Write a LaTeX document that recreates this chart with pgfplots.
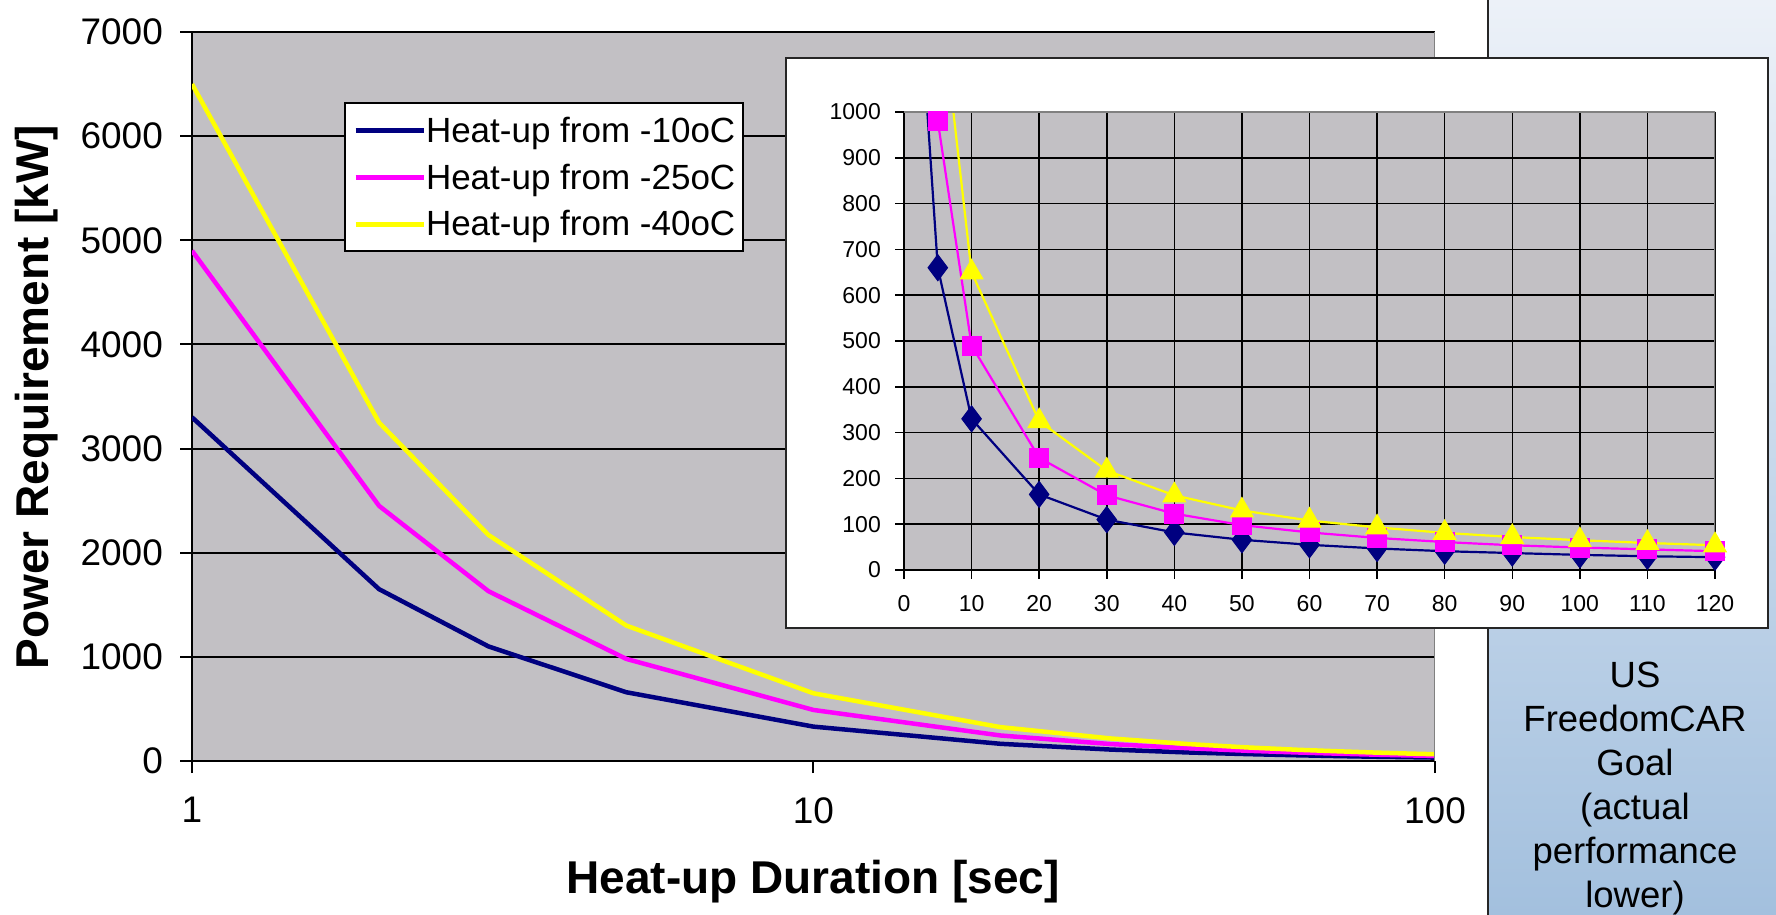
\documentclass[border=0pt]{standalone}
\usepackage{pgfplots}
\pgfplotsset{compat=1.18}
\usepackage{pgfplotstable}
\usepackage{fontspec}
\setmainfont{Liberation Sans}

\definecolor{plotgrey}{RGB}{194,192,196}
\definecolor{xlnavy}{RGB}{0,0,128}
\definecolor{xlmag}{RGB}{255,0,255}
\definecolor{xlyel}{RGB}{255,255,0}
\definecolor{panellight}{RGB}{236,241,248}
\definecolor{panelmid}{RGB}{192,211,233}
\definecolor{panelblue}{RGB}{163,192,222}

% power [kW] against heat-up time [s]
\pgfplotstableread{
t p
1 3300
2 1650
3 1100
5 660
10 330
20 165
30 110
40 82
50 66
60 55
70 47
80 41
90 37
100 33
110 30
120 28
}\tabA
\pgfplotstableread{
t p
1 4900
2 2450
3 1630
5 980
10 490
20 245
30 163
40 123
50 98
60 82
70 70
80 61
90 54
100 49
110 45
120 41
}\tabB
\pgfplotstableread{
t p
1 6500
2 3250
3 2170
5 1300
10 650
20 325
30 217
40 163
50 130
60 108
70 93
80 81
90 72
100 65
110 59
120 54
}\tabC

\begin{document}
\begin{tikzpicture}
\useasboundingbox (0,0) rectangle (1776bp,915bp);
\fill[white] (0,0) rectangle (1776bp,915bp);

% main chart, log time axis
\begin{axis}[
    at={(192bp,154bp)}, anchor=south west,
    scale only axis, width=1243bp, height=729bp,
    xmode=log, xmin=1, xmax=100, ymin=0, ymax=7000,
    xtick={1,10,100}, xticklabels={1,10,100}, xminorticks=false,
    ytick={0,1000,...,7000},
    scaled y ticks=false,
    /pgf/number format/1000 sep={},
    /pgf/number format/assume math mode=true,
    axis background/.style={fill=plotgrey},
    axis x line*=bottom, axis y line*=left,
    axis line style={black, line width=2bp, -},
    tick align=outside, major tick length=12bp,
    tick style={black, line width=2bp},
    ymajorgrids, grid style={black, line width=2bp},
    tick label style={font=\fontsize{37bp}{40bp}\selectfont},
    yticklabel style={inner sep=0pt, xshift=-17bp},
    xticklabel style={inner sep=0pt, yshift=-24bp},
    legend style={at={(0.1223,0.904)}, anchor=north west,
        draw=black, line width=2bp, fill=white,
        inner xsep=8bp, inner ysep=14bp, row sep=20bp,
        font=\fontsize{35bp}{40bp}\selectfont,
        nodes={inner sep=0pt},
        /tikz/every even column/.append style={column sep=10bp}},
    legend cell align=left,
    legend image code/.code={\draw[#1, line width=5bp] (0bp,0bp) -- (68bp,0bp);},
]
\addplot[xlnavy, line width=4.5bp, line join=round] table[x=t, y=p] {\tabA};
\addlegendentry{Heat-up from -10oC}
\addplot[xlmag, line width=4.5bp, line join=round] table[x=t, y=p] {\tabB};
\addlegendentry{Heat-up from -25oC}
\addplot[xlyel, line width=4.5bp, line join=round] table[x=t, y=p] {\tabC};
\addlegendentry{Heat-up from -40oC}
\draw[gray, line width=1.5bp] (rel axis cs:1,0) -- (rel axis cs:1,1);
\end{axis}

% side panel
\shade[top color=panellight, middle color=panelmid, bottom color=panelblue]
    (1488bp,0) rectangle (1776bp,915bp);
\draw[black!85, line width=2.5bp] (1488bp,0) -- (1488bp,915bp);
\node[align=center, font=\fontsize{36.5bp}{44bp}\selectfont] at (1635bp,126bp)
    {US\\FreedomCAR\\Goal\\(actual\\performance\\lower)};

% inset, linear time axis
\fill[white] (786bp,287bp) rectangle (1768bp,857bp);
\draw[black!85, line width=2.5bp] (786bp,287bp) rectangle (1768bp,857bp);
\begin{axis}[
    at={(904bp,345bp)}, anchor=south west,
    scale only axis, width=811bp, height=458bp,
    xmin=0, xmax=120, ymin=0, ymax=1000,
    xtick={0,10,...,120}, ytick={0,100,...,1000},
    /pgf/number format/1000 sep={},
    /pgf/number format/assume math mode=true,
    axis background/.style={fill=plotgrey},
    axis x line*=bottom, axis y line*=left,
    axis line style={black, line width=1.5bp, -},
    tick align=outside, major tick length=9bp,
    tick style={black, line width=1.5bp},
    grid=major, grid style={black, line width=1.5bp},
    tick label style={font=\fontsize{23bp}{25bp}\selectfont},
    yticklabel style={inner sep=0pt, xshift=-14bp},
    xticklabel style={inner sep=0pt, yshift=-16bp},
]
\addplot[xlnavy, line width=2.2bp, mark=diamond*, mark size=13bp,
    mark options={solid, line width=1bp}] table[x=t, y=p] {\tabA};
\addplot[xlmag, line width=2.2bp, mark=square*, mark size=9.5bp,
    mark options={solid, line width=1bp}] table[x=t, y=p] {\tabB};
\addplot[xlyel, line width=2.2bp, mark=triangle*, mark size=13bp,
    mark options={solid, line width=1bp}] table[x=t, y=p] {\tabC};
\draw[gray, line width=1.5bp] (rel axis cs:0,1) -- (rel axis cs:1,1) -- (rel axis cs:1,0);
\end{axis}

% axis titles
\node[rotate=90, font=\bfseries\fontsize{46bp}{50bp}\selectfont] at (37bp,518bp)
    {Power Requirement [kW]};
\node[font=\bfseries\fontsize{46bp}{50bp}\selectfont] at (813bp,33bp)
    {Heat-up Duration [sec]};
\end{tikzpicture}
\end{document}
